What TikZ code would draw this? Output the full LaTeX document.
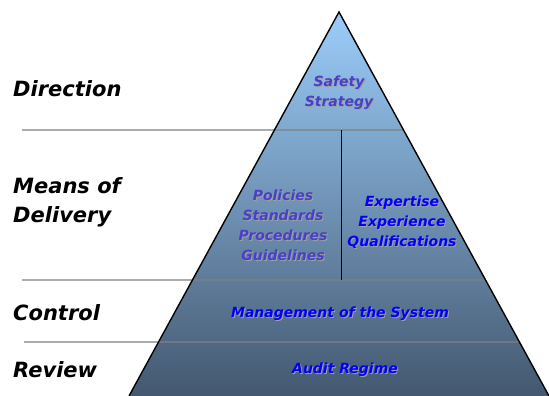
\documentclass[tikz,border=0pt]{standalone}
\usepackage{fontspec}
\setmainfont{DejaVu Sans}
\usetikzlibrary{calc}

\definecolor{pyrtop}{RGB}{155,205,250}
\definecolor{pyrbot}{RGB}{68,88,112}
\definecolor{slateblue}{RGB}{72,64,200}
\definecolor{shadowgray}{RGB}{160,160,160}
\definecolor{levelgray}{RGB}{128,128,128}

% text with a soft drop shadow
\newcommand{\shadowed}[1]{\leavevmode\rlap{\kern1pt\raisebox{-1pt}{\textcolor{shadowgray}{#1}}}#1}

\begin{document}
\begin{tikzpicture}[x=1pt, y=-1pt,
    level/.style={font=\bfseries\itshape\fontsize{21}{29}\selectfont,
        anchor=west, align=left, inner sep=0pt},
    tier/.style={font=\bfseries\itshape\fontsize{14}{20}\selectfont,
        align=center, inner sep=0pt},
    divider/.style={levelgray, line width=1.1pt}]
    \useasboundingbox (0, 0) rectangle (549, 396);

    % Pyramid corners
    \coordinate (apex) at (339, 12);
    \coordinate (bl) at (129, 396);
    \coordinate (br) at (549, 396);
    \shade [top color=pyrtop, bottom color=pyrbot] (apex) -- (bl) -- (br) -- cycle;

    % Level lines
    \coordinate (d1) at (22, 130);
    \coordinate (d2) at (22, 280);
    \coordinate (d3) at (24, 342);
    \coordinate (e1) at ($(apex)!0.3073!(br)$);
    \coordinate (e2) at ($(apex)!0.6979!(br)$);
    \coordinate (e3) at ($(apex)!0.8594!(br)$);
    \draw [divider] (d1) -- (e1);
    \draw [divider] (d2) -- (e2);
    \draw [divider] (d3) -- (e3);
    \coordinate (vt) at (341, 130);
    \coordinate (vb) at (341, 280);
    \draw [black, line width=1pt] (vt) -- (vb);
    \draw [black, line width=1.4pt, line join=miter] (bl) -- (apex) -- (br);

    % Level names
    \node [level] (ldir) at (13, 89) {Direction};
    \node [level] (lmeans) at (13, 202.5) {Means of\\Delivery};
    \node [level] (lctrl) at (13, 313) {Control};
    \node [level] (lrev) at (13, 370) {Review};

    % Contents of the tiers
    \node [tier, slateblue] (safety) at (339, 93.5) {\shadowed{Safety}\\\shadowed{Strategy}};
    \node [tier, slateblue] (policies) at (283, 225.5)
        {\shadowed{Policies}\\\shadowed{Standards}\\\shadowed{Procedures}\\\shadowed{Guidelines}};
    \node [tier, blue] (expertise) at (402, 222.5)
        {\shadowed{Expertise}\\\shadowed{Experience}\\\shadowed{Qualifications}};
    \node [tier, blue] (mgmt) at (340, 314) {\shadowed{Management of the System}};
    \node [tier, blue] (audit) at (345, 370) {\shadowed{Audit Regime}};

\end{tikzpicture}
\end{document}
